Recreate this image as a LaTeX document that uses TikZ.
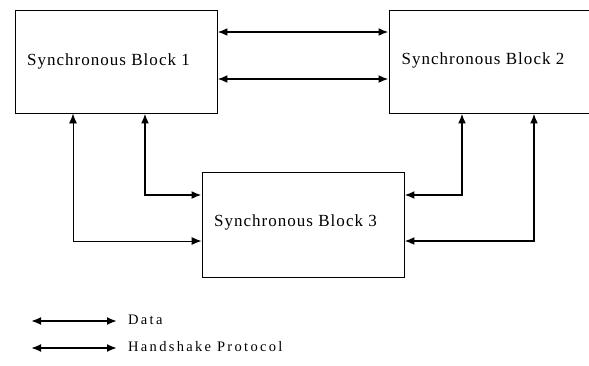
\documentclass[tikz,border=0pt]{standalone}
\usepackage{fontspec}
\setmainfont{Liberation Serif}
\newfontfamily\blockfont[LetterSpace=6]{Liberation Serif}
\newfontfamily\legendfont[LetterSpace=16]{Liberation Serif}
\usetikzlibrary{arrows.meta}
\begin{document}
\begin{tikzpicture}[x=1pt,y=-1pt,
  blockbox/.style={draw,line width=0.9pt,minimum width=202pt,minimum height=103pt,inner sep=0pt},
  blocktext/.style={font=\blockfont\fontsize{17}{20}\selectfont,inner sep=0pt},
  legendtext/.style={font=\legendfont\fontsize{14.5}{17}\selectfont,inner sep=0pt,anchor=west},
  link/.style={line width=1.9pt,{Latex[length=10pt,width=8pt]}-{Latex[length=10pt,width=8pt]}},
  thinlink/.style={line width=0.9pt,{Latex[length=10pt,width=8pt]}-{Latex[length=10pt,width=8pt]}}]
\useasboundingbox (0,0) rectangle (589,365);
\node[blockbox] (b1) at (116,61.5) {};
\node[blockbox,minimum width=200pt] (b2) at (489,61.5) {};
\node[blockbox,minimum height=105pt] (b3) at (303,224.5) {};
\node[blocktext] (t1) at (108.5,61) {Synchronous Block 1};
\node[blocktext] (t2) at (483,60) {Synchronous Block 2};
\node[blocktext] (t3) at (295.5,222) {Synchronous Block 3};
% top links
\draw[link] (b1.east |- 0,32) -- (b2.west |- 0,32);
\draw[link] (b1.east |- 0,79) -- (b2.west |- 0,79);
% block 1 to block 3
\draw[link] (b1.south -| 145,0) |- (b3.west |- 0,195);
\draw[thinlink] (b1.south -| 73,0) |- (b3.west |- 0,241);
% block 2 to block 3
\draw[link] (b2.south -| 462,0) |- (b3.east |- 0,195);
\draw[link] (b2.south -| 534,0) |- (b3.east |- 0,241);
% legend
\coordinate (l1a) at (31,321);
\coordinate (l1b) at (117,321);
\coordinate (l2a) at (31,348);
\coordinate (l2b) at (117,348);
\draw[link] (l1a) -- (l1b);
\draw[link] (l2a) -- (l2b);
\node[legendtext] (d1) at (128,320) {Data};
\node[legendtext] (d2) at (128,347) {Handshake Protocol};
\end{tikzpicture}
\end{document}
